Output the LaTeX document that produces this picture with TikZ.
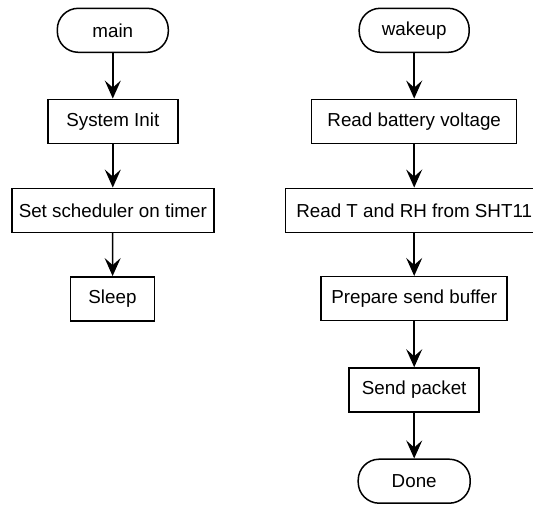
\documentclass[tikz,border=0pt]{standalone}
\usepackage{fontspec}
\setmainfont{Liberation Sans}
\usetikzlibrary{arrows.meta}
\begin{document}
\begin{tikzpicture}[x=1pt,y=-1pt,
  every node/.style={font=\fontsize{18.8}{22}\selectfont, line width=1.5pt, draw, minimum height=44pt, inner sep=0pt},
  stepbox/.style={rectangle},
  terminal/.style={rounded corners=21pt},
  flow/.style={line width=1.5pt, -{Stealth[length=18pt,width=16pt,inset=7pt]}}
]
\useasboundingbox (0,0) rectangle (533,504);
% main loop
\node[terminal, minimum width=111pt] (main) at (112.8,30.3) {main};
\node[stepbox, minimum width=130pt] (init) at (112.8,121.3) {System Init};
\node[stepbox, minimum width=202pt] (sched) at (112.8,210.3) {Set scheduler on timer};
\node[stepbox, minimum width=84pt] (sleep) at (112.5,298.8) {Sleep};
\draw[flow] (main) -- (init);
\draw[flow] (init) -- (sched);
\draw[flow] (sched) -- (sleep);
% wakeup handler
\node[terminal, minimum width=110pt] (wake) at (414.2,30.3) {wakeup};
\node[stepbox, minimum width=205pt] (batt) at (414.2,121.3) {Read battery voltage};
\node[stepbox, minimum width=257pt] (sht) at (414.2,210.3) {Read T and RH from SHT11};
\node[stepbox, minimum width=186pt] (buf) at (414.2,298.7) {Prepare send buffer};
\node[stepbox, minimum width=130pt] (send) at (414.2,390) {Send packet};
\node[terminal, minimum width=112pt] (done) at (414.2,481.2) {Done};
\draw[flow] (wake) -- (batt);
\draw[flow] (batt) -- (sht);
\draw[flow] (sht) -- (buf);
\draw[flow] (buf) -- (send);
\draw[flow] (send) -- (done);
\end{tikzpicture}
\end{document}
